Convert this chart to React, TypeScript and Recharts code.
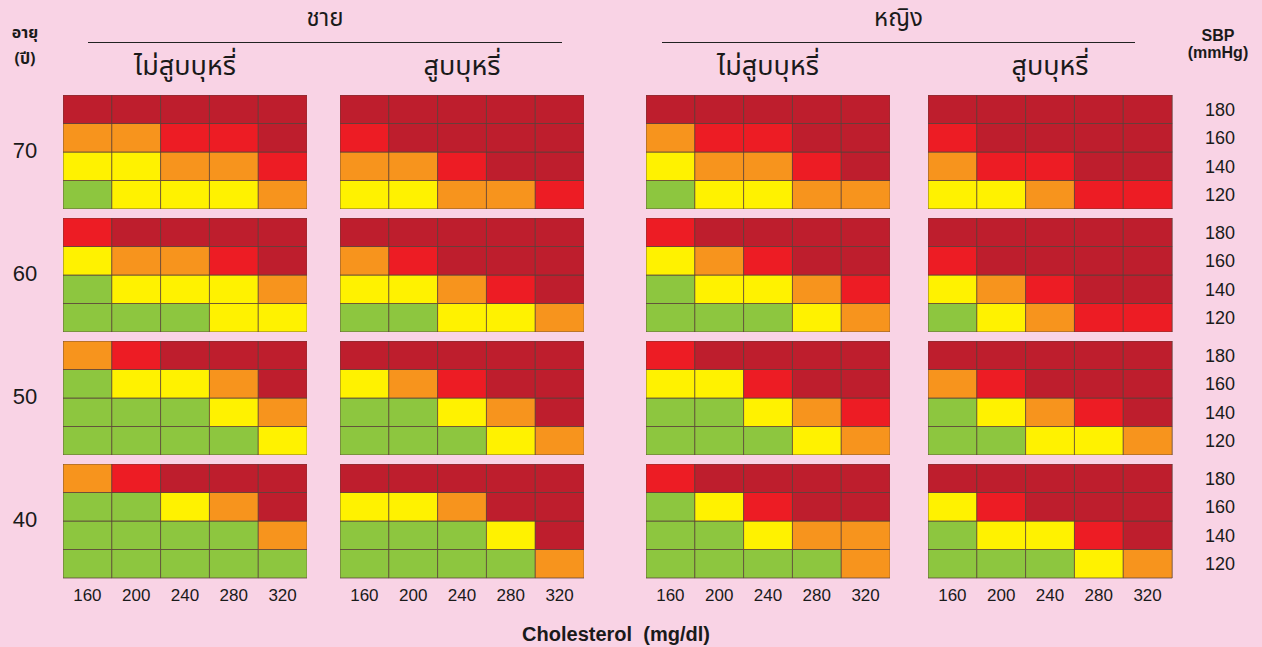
import { BarChart, Bar, XAxis, YAxis, Cell } from 'recharts'

const cholesterol = ['160', '200', '240', '280', '320']
const sbp = ['120', '140', '160', '180']
const ages = ['70', '60', '50', '40']
const sexTitles = ['ชาย', 'หญิง']
const groupTitles = ['ไม่สูบบุหรี่', 'สูบบุหรี่', 'ไม่สูบบุหรี่', 'สูบบุหรี่']

// risk level 1..5 (green -> dark red)
// each panel: rows top to bottom = SBP 180, 160, 140, 120; columns = cholesterol 160..320
const maleNon70 = [[5, 5, 5, 5, 5], [3, 3, 4, 4, 5], [2, 2, 3, 3, 4], [1, 2, 2, 2, 3]]
const maleSmk70 = [[5, 5, 5, 5, 5], [4, 5, 5, 5, 5], [3, 3, 4, 5, 5], [2, 2, 3, 3, 4]]
const femNon70 = [[5, 5, 5, 5, 5], [3, 4, 4, 5, 5], [2, 3, 3, 4, 5], [1, 2, 2, 3, 3]]
const femSmk70 = [[5, 5, 5, 5, 5], [4, 5, 5, 5, 5], [3, 4, 4, 5, 5], [2, 2, 3, 4, 4]]

const maleNon60 = [[4, 5, 5, 5, 5], [2, 3, 3, 4, 5], [1, 2, 2, 2, 3], [1, 1, 1, 2, 2]]
const maleSmk60 = [[5, 5, 5, 5, 5], [3, 4, 5, 5, 5], [2, 2, 3, 4, 5], [1, 1, 2, 2, 3]]
const femNon60 = [[4, 5, 5, 5, 5], [2, 3, 4, 5, 5], [1, 2, 2, 3, 4], [1, 1, 1, 2, 3]]
const femSmk60 = [[5, 5, 5, 5, 5], [4, 5, 5, 5, 5], [2, 3, 4, 5, 5], [1, 2, 3, 4, 4]]

const maleNon50 = [[3, 4, 5, 5, 5], [1, 2, 2, 3, 5], [1, 1, 1, 2, 3], [1, 1, 1, 1, 2]]
const maleSmk50 = [[5, 5, 5, 5, 5], [2, 3, 4, 5, 5], [1, 1, 2, 3, 5], [1, 1, 1, 2, 3]]
const femNon50 = [[4, 5, 5, 5, 5], [2, 2, 4, 5, 5], [1, 1, 2, 3, 4], [1, 1, 1, 2, 3]]
const femSmk50 = [[5, 5, 5, 5, 5], [3, 4, 5, 5, 5], [1, 2, 3, 4, 5], [1, 1, 2, 2, 3]]

const maleNon40 = [[3, 4, 5, 5, 5], [1, 1, 2, 3, 5], [1, 1, 1, 1, 3], [1, 1, 1, 1, 1]]
const maleSmk40 = [[5, 5, 5, 5, 5], [2, 2, 3, 5, 5], [1, 1, 1, 2, 5], [1, 1, 1, 1, 3]]
const femNon40 = [[4, 5, 5, 5, 5], [1, 2, 4, 5, 5], [1, 1, 2, 3, 3], [1, 1, 1, 1, 3]]
const femSmk40 = [[5, 5, 5, 5, 5], [2, 4, 5, 5, 5], [1, 2, 2, 4, 5], [1, 1, 1, 2, 3]]

const riskGrid = [
  [maleNon70, maleSmk70, femNon70, femSmk70],
  [maleNon60, maleSmk60, femNon60, femSmk60],
  [maleNon50, maleSmk50, femNon50, femSmk50],
  [maleNon40, maleSmk40, femNon40, femSmk40],
]

const levelColors = ['#8dc63f', '#fff200', '#f7941d', '#ed1c24', '#be1e2d']

const BG = '#f9d3e5'
const numFont = '"Liberation Sans", Arial, Helvetica, sans-serif'
const thaiFont = '"Noto Sans Thai", "Noto Sans", "DejaVu Sans", sans-serif'

const panelLeft = [63, 340, 646, 928]
const panelTop = [95, 218, 341, 464]
const PW = 244
const PH = 114
const XH = 36
const YW = 70

function Panel({ grid, showX, showY }: { grid: number[][]; showX: boolean; showY: boolean }) {
  const data = cholesterol.map((c) => ({ chol: c, s120: 1, s140: 1, s160: 1, s180: 1 }))
  const keys = ['s120', 's140', 's160', 's180']
  return (
    <BarChart
      width={PW + (showY ? YW : 0)}
      height={PH + (showX ? XH : 0)}
      data={data}
      margin={{ top: 0, right: 0, bottom: 0, left: 0 }}
      barCategoryGap={0}
      barGap={0}
    >
      <XAxis
        dataKey="chol"
        hide={!showX}
        height={XH}
        axisLine={false}
        tickLine={false}
        tickMargin={5}
        interval={0}
        tick={{ fontSize: 17, fill: '#1a1a1a', fontFamily: numFont }}
      />
      <YAxis
        type="number"
        domain={[0, 4]}
        hide={!showY}
        orientation="right"
        width={YW}
        ticks={[0.5, 1.5, 2.5, 3.5]}
        tickFormatter={(v: number) => sbp[Math.floor(v)]}
        axisLine={false}
        tickLine={false}
        tickMargin={27}
        tick={{ fontSize: 18, fill: '#1a1a1a', fontFamily: numFont, textAnchor: 'start' }}
      />
      {keys.map((k, si) => (
        <Bar key={k} dataKey={k} stackId="a" isAnimationActive={false} stroke="#5a4038" strokeWidth={1} strokeOpacity={0.75}>
          {data.map((d, ci) => (
            <Cell key={d.chol} fill={levelColors[grid[3 - si][ci] - 1]} />
          ))}
        </Bar>
      ))}
    </BarChart>
  )
}

export default function App() {
  const abs = { position: 'absolute' as const }
  return (
    <div style={{ position: 'absolute', left: 0, top: 0, width: 1262, height: 647, background: BG, overflow: 'hidden', color: '#1a1a1a' }}>
      {/* sex headers */}
      {sexTitles.map((t, i) => {
        const x0 = i === 0 ? 88 : 662
        const x1 = i === 0 ? 562 : 1135
        return (
          <div key={t}>
            <div style={{ ...abs, left: x0, width: x1 - x0, top: 4, textAlign: 'center', fontFamily: thaiFont, fontSize: 24, lineHeight: '30px' }}>{t}</div>
            <div style={{ ...abs, left: x0, width: x1 - x0, top: 42, borderTop: '1.5px solid #222' }} />
          </div>
        )
      })}
      {groupTitles.map((t, i) => (
        <div key={i} style={{ ...abs, left: panelLeft[i], width: PW, top: 48, textAlign: 'center', fontFamily: thaiFont, fontSize: 27, lineHeight: '38px' }}>
          {t}
        </div>
      ))}
      {/* age label */}
      <div style={{ ...abs, left: 0, width: 50, top: 20, textAlign: 'center', fontFamily: thaiFont, fontSize: 16, fontWeight: 700, lineHeight: '26px' }}>
        <div>อายุ</div>
        <div>(ปี)</div>
      </div>
      <div style={{ ...abs, left: 1176, width: 84, top: 27, textAlign: 'center', fontFamily: numFont, fontSize: 16, fontWeight: 700, lineHeight: '17px' }}>
        SBP
        <br />
        (mmHg)
      </div>
      {ages.map((a, r) => (
        <div key={a} style={{ ...abs, left: 0, width: 50, top: panelTop[r] + PH / 2 - 14, textAlign: 'center', fontFamily: numFont, fontSize: 22, lineHeight: '26px' }}>
          {a}
        </div>
      ))}
      {riskGrid.map((row, r) =>
        row.map((grid, c) => (
          <div key={`${r}-${c}`} style={{ ...abs, left: panelLeft[c], top: panelTop[r] }}>
            <Panel grid={grid} showX={r === 3} showY={c === 3} />
          </div>
        )),
      )}
      <div style={{ ...abs, left: 0, width: 1232, top: 621, textAlign: 'center', fontFamily: numFont, fontSize: 20, fontWeight: 700, lineHeight: '26px' }}>
        Cholesterol&nbsp; (mg/dl)
      </div>
    </div>
  )
}
